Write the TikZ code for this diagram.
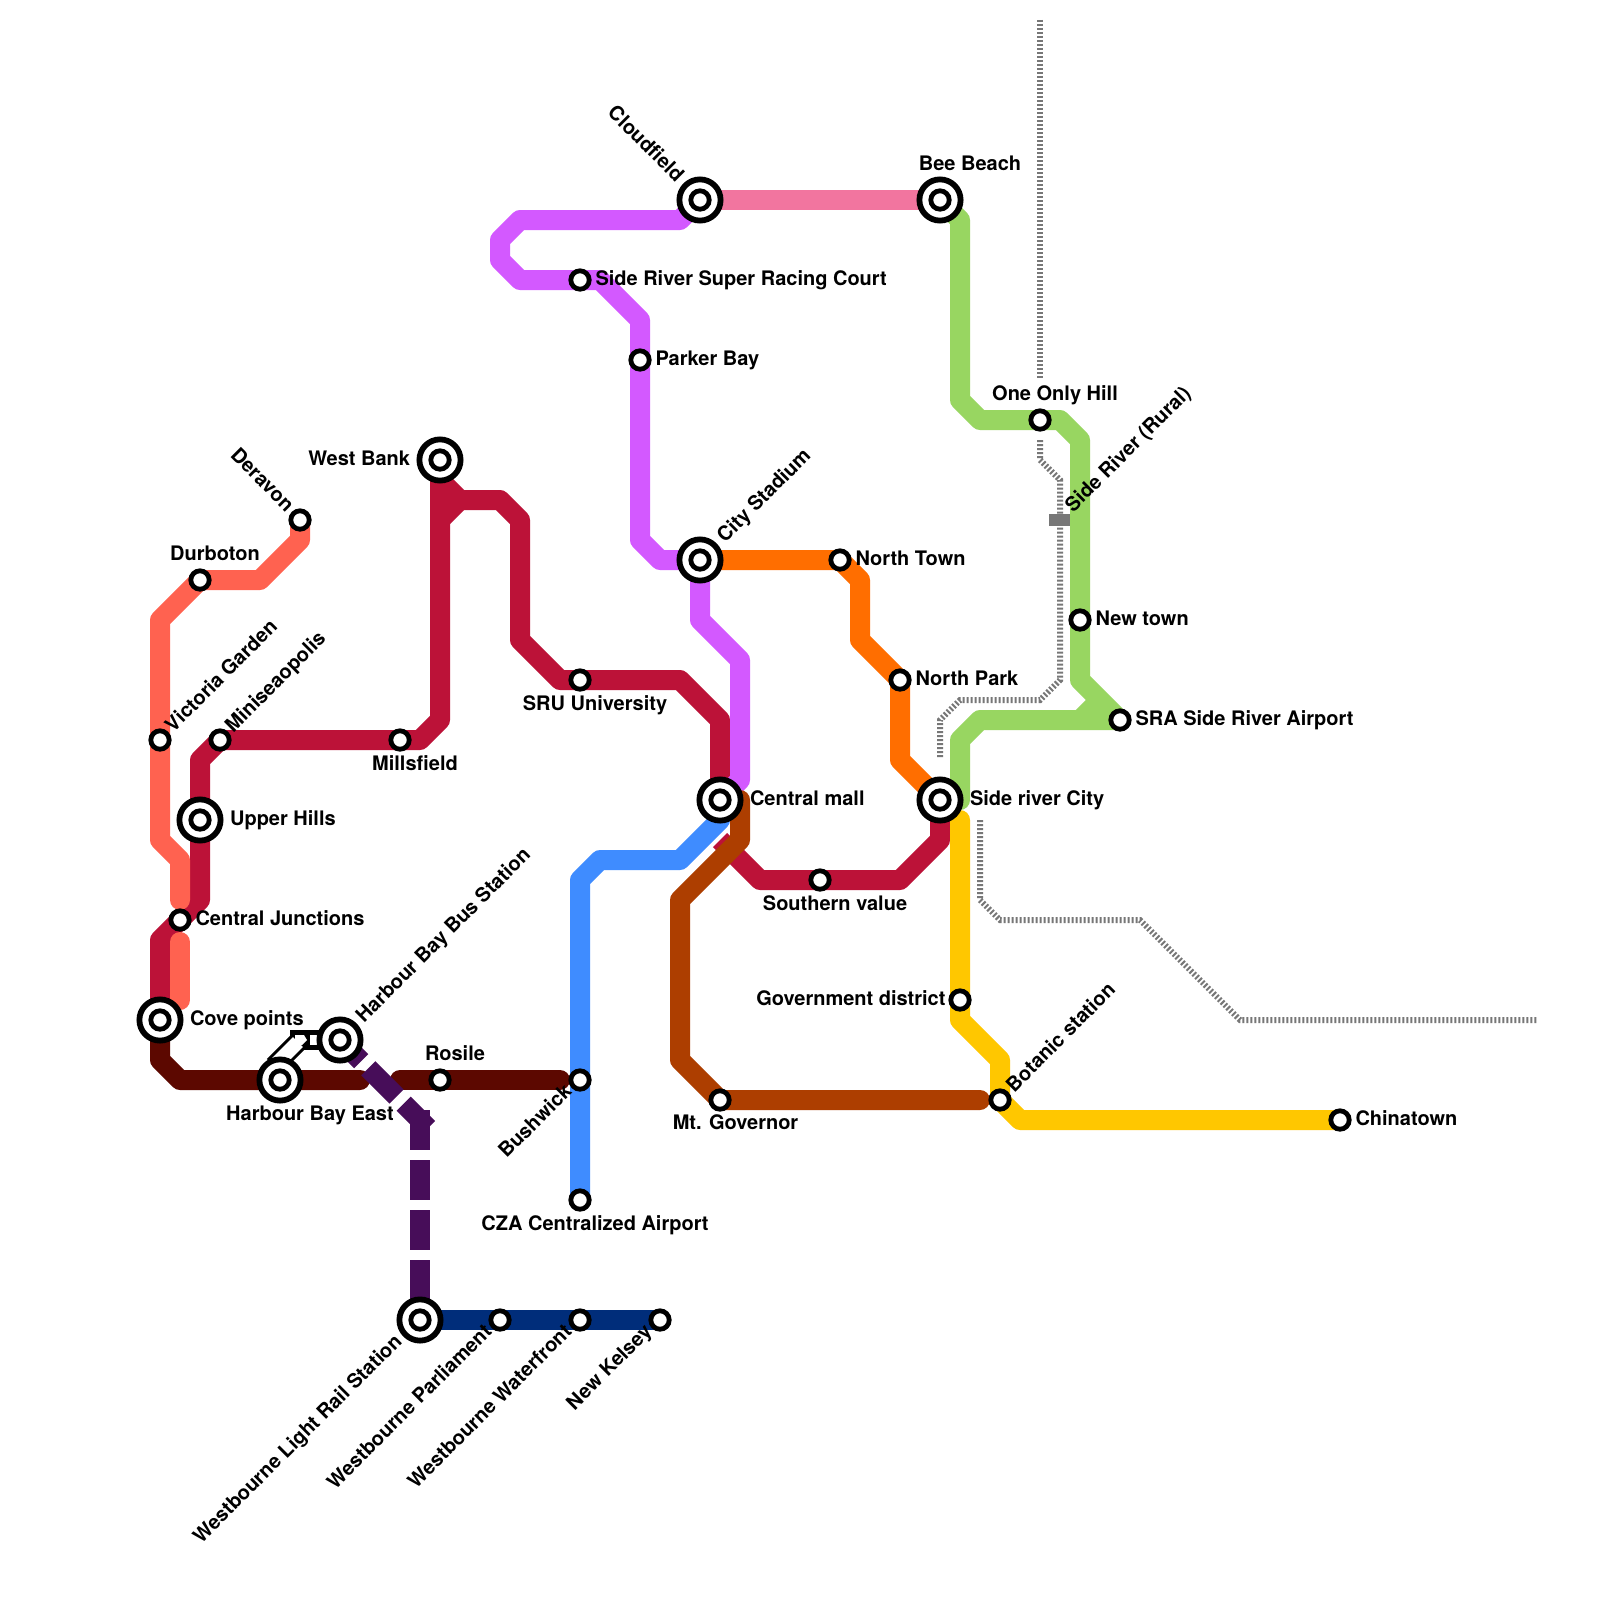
\documentclass[tikz,border=0pt]{standalone}
\usepackage{fontspec}
\setmainfont{TeX Gyre Heros}
\definecolor{salmon}{HTML}{FF6250}
\definecolor{crim}{HTML}{BC1238}
\definecolor{mar}{HTML}{5C0800}
\definecolor{dpur}{HTML}{470D59}
\definecolor{navy}{HTML}{002D7A}
\definecolor{bluel}{HTML}{3F8CFF}
\definecolor{purp}{HTML}{D359FF}
\definecolor{pink}{HTML}{F2759F}
\definecolor{grn}{HTML}{98D661}
\definecolor{org}{HTML}{FF6E00}
\definecolor{yel}{HTML}{FFC700}
\definecolor{brn}{HTML}{AD3E00}
\definecolor{railg}{HTML}{777777}
\tikzset{
  x=0.5pt,y=-0.5pt,
  metro/.style={line width=10pt,line join=round,line cap=round},
  metrobutt/.style={line width=10pt,line join=round,line cap=butt},
  dashline/.style={line width=10pt,line join=miter,line cap=butt,color=dpur},
  rail/.style={line width=3pt,color=railg,dash pattern=on 1pt off 1pt,line cap=butt},
  stnring/.style={draw=black,fill=white,line width=2.4pt},
  interring/.style={draw=black,fill=white,line width=2.9pt},
  lab/.style={font=\fontsize{10}{12}\selectfont\bfseries,inner sep=0pt,outer sep=0pt,text=black},
  lr/.style={lab,anchor=base west},
  ll/.style={lab,anchor=base east},
  lc/.style={lab,anchor=base},
  lu/.style={lab,anchor=base west,rotate=45},
  ld/.style={lab,anchor=base east,rotate=45},
  lul/.style={lab,anchor=base east,rotate=-45},
}
\newcommand{\plainstn}[3]{\draw[stnring] (#2,#3) circle [radius=4.6pt]; \coordinate (#1) at (#2,#3);}
\newcommand{\bigstn}[3]{\draw[interring] (#2,#3) circle [radius=10.3pt]; \draw[stnring] (#2,#3) circle [radius=4.6pt]; \coordinate (#1) at (#2,#3);}
\begin{document}
\begin{tikzpicture}
\useasboundingbox (0,0) rectangle (1600,1600);
\fill[white] (0,0) rectangle (1600,1600);
% coordinates of station positions
\foreach \n/\x/\y in {deravon/300/520,durboton/200/580,victoria/160/740,mini/220/740,upper/200/820,central/180/920,cove/160/1020,hbe/280/1080,hbb/340/1040,rosile/440/1080,mills/400/740,west/440/460,sru/580/680,mall/720/800,south/820/880,src/940/800,cloud/700/200,bee/940/200,racing/580/280,parker/640/360,city/700/560,ntown/840/560,npark/900/680,one/1040/420,newt/1080/620,sra/1120/720,gov/960/1000,bot/1000/1100,china/1340/1120,mtg/720/1100,bush/580/1080,cza/580/1200,wlr/420/1320,wpa/500/1320,wwa/580/1320,nkel/660/1320}{\coordinate (p\n) at (\x,\y);}
% rail
\draw[rail] (1040,20) -- (1040,380);
\draw[rail,line join=miter] (1040,440) -- (1040,460) -- (1060,480) -- (1060,680) -- (1040,700) -- (960,700) -- (940,720) -- (940,758);
\draw[rail] (980,820) -- (980,900) -- (1000,920) -- (1140,920) -- (1240,1020) -- (1538,1020);
\node[fill=railg,minimum width=11pt,minimum height=6pt,inner sep=0pt] (railst) at (1060,520) {};
% maroon
\draw[metro,mar] (pcove) -- (160,1060) -- (180,1080) -- (360,1080);
\draw[metro,mar] (400,1080) -- (560,1080);
% dashed purple
\draw[dashline,dash pattern=on 20pt off 5pt,dash phase=5pt] (phbb) -- (428,1128);
% crimson
\draw[metrobutt,crim] (pcove) -- (160,940) -- (200,900) -- (200,760) -- (pmini) -- (420,740) -- (440,720) -- (pwest);
\draw[metrobutt,crim] (440,480) -- (460,500) -- (500,500) -- (520,520) -- (520,640) -- (560,680) -- (680,680) -- (720,720) -- (pmall);
\draw[metrobutt,crim] (440,520) -- (460,500);
% salmon
\draw[metro,salmon] (pderavon) -- (300,540) -- (260,580) -- (pdurboton) -- (160,620) -- (pvictoria) -- (160,840) -- (180,860) -- (180,900);
\draw[metro,salmon] (180,942) -- (180,1000);
% purple
\draw[metro,purp] (pcloud) -- (680,220) -- (520,220) -- (500,240) -- (500,260) -- (520,280) -- (600,280) -- (640,320) -- (640,540) -- (660,560) -- (pcity) -- (700,620) -- (740,660) -- (740,780) -- (pmall);
% blue
\draw[metrobutt,bluel] (pcza) -- (580,880) -- (600,860) -- (680,860) -- (720,820) -- (pmall);
% crimson south
\draw[metrobutt,crim] (720,840) -- (760,880) -- (900,880) -- (940,840) -- (psrc);
% brown
\draw[metro,brn] (740,800) -- (740,840) -- (680,900) -- (680,1060) -- (720,1100) -- (980,1100);
% pink
\draw[metrobutt,pink] (pcloud) -- (pbee);
% green
\draw[metro,grn] (pbee) -- (960,220) -- (960,400) -- (980,420) -- (1060,420) -- (1080,440) -- (1080,680) -- (psra) -- (980,720) -- (960,740) -- (960,800) -- (psrc);
\draw[metrobutt,grn] (1100,700) -- (1080,720);
% orange
\draw[metrobutt,org] (pcity) -- (840,560) -- (860,580) -- (860,640) -- (900,680) -- (900,760) -- (psrc);
% yellow
\draw[metro,yel] (960,820) -- (960,1020) -- (1000,1060) -- (1000,1100) -- (1020,1120) -- (pchina);
% navy
\draw[metrobutt,navy] (pwlr) -- (pnkel);
% dashed vertical
\draw[dashline,dash pattern=on 20pt off 5pt] (420,1110) -- (pwlr);
% out of system link
\draw[line width=10pt,black,line cap=butt] (290,1040) -- (phbb);
\draw[line width=10pt,black,line cap=butt] (300,1040) -- (274,1066);
\draw[line width=7pt,white,line cap=butt] (298,1042) -- (274,1066);
\fill[white] (295,1035) -- (304,1035) -- (307,1040) -- (302,1045) -- (295,1045) -- cycle;
\draw[line width=5pt,white,line cap=butt] (310,1040) -- (phbb);
% stations
\foreach \n/\x/\y in {deravon/300/520,durboton/200/580,victoria/160/740,mini/220/740,central/180/920,rosile/440/1080,mills/400/740,sru/580/680,south/820/880,racing/580/280,parker/640/360,ntown/840/560,npark/900/680,one/1040/420,newt/1080/620,sra/1120/720,gov/960/1000,bot/1000/1100,china/1340/1120,mtg/720/1100,bush/580/1080,cza/580/1200,wpa/500/1320,wwa/580/1320,nkel/660/1320}{\plainstn{s\n}{\x}{\y}}
\foreach \n/\x/\y in {upper/200/820,cove/160/1020,hbe/280/1080,hbb/340/1040,west/440/460,mall/720/800,src/940/800,cloud/700/200,bee/940/200,city/700/560,wlr/420/1320}{\bigstn{s\n}{\x}{\y}}
% labels
\node[lul] (tderavon) at (285.7,512.8) {Deravon};
\node[lc] (tdurboton) at (215,560) {Durboton};
\node[lu] (tvictoria) at (173.3,733.3) {Victoria Garden};
\node[lu] (tmini) at (233.3,733.3) {Miniseaopolis};
\node[lr] (tupper) at (230,825) {Upper Hills};
\node[lr] (tcentral) at (195.5,925) {Central Junctions};
\node[lr] (tcove) at (190,1025) {Cove points};
\node[lc] (thbe) at (310,1120) {Harbour Bay East};
\node[lu] (thbb) at (364.2,1023.5) {Harbour Bay Bus Station};
\node[lc] (trosile) at (455,1060) {Rosile};
\node[lc] (tmills) at (415,770) {Millsfield};
\node[ll] (twest) at (410,465) {West Bank};
\node[lc] (tsru) at (595,710) {SRU University};
\node[lr] (tmall) at (750,805) {Central mall};
\node[lc] (tsouth) at (835,910) {Southern value};
\node[lr] (tsrc) at (970,805) {Side river City};
\node[lul] (tcloud) at (675.8,183) {Cloudfield};
\node[lc] (tbee) at (970,170) {Bee Beach};
\node[lr] (tracing) at (595.5,285) {Side River Super Racing Court};
\node[lr] (tparker) at (655.5,365) {Parker Bay};
\node[lu] (tcity) at (725.2,543.5) {City Stadium};
\node[lr] (tntown) at (855.5,565) {North Town};
\node[lr] (tnpark) at (915.5,685) {North Park};
\node[lc] (tone) at (1055,400) {One Only Hill};
\node[lu] (trail) at (1073.3,513.3) {Side River (Rural)};
\node[lr] (tnewt) at (1095.5,625) {New town};
\node[lr] (tsra) at (1135.5,725) {SRA Side River Airport};
\node[ll] (tgov) at (945.5,1005) {Government district};
\node[lu] (tbot) at (1014.3,1093.3) {Botanic station};
\node[lr] (tchina) at (1355.5,1125) {Chinatown};
\node[lc] (tmtg) at (735.5,1129) {Mt. Governor};
\node[ld] (tbush) at (572.8,1092.8) {Bushwick};
\node[lc] (tcza) at (595,1230) {CZA Centralized Airport};
\node[ld] (twlr) at (403,1342.7) {Westbourne Light Rail Station};
\node[ld] (twpa) at (492.8,1332.8) {Westbourne Parliament};
\node[ld] (twwa) at (572.8,1332.8) {Westbourne Waterfront};
\node[ld] (tnkel) at (652.8,1332.8) {New Kelsey};
\end{tikzpicture}
\end{document}
